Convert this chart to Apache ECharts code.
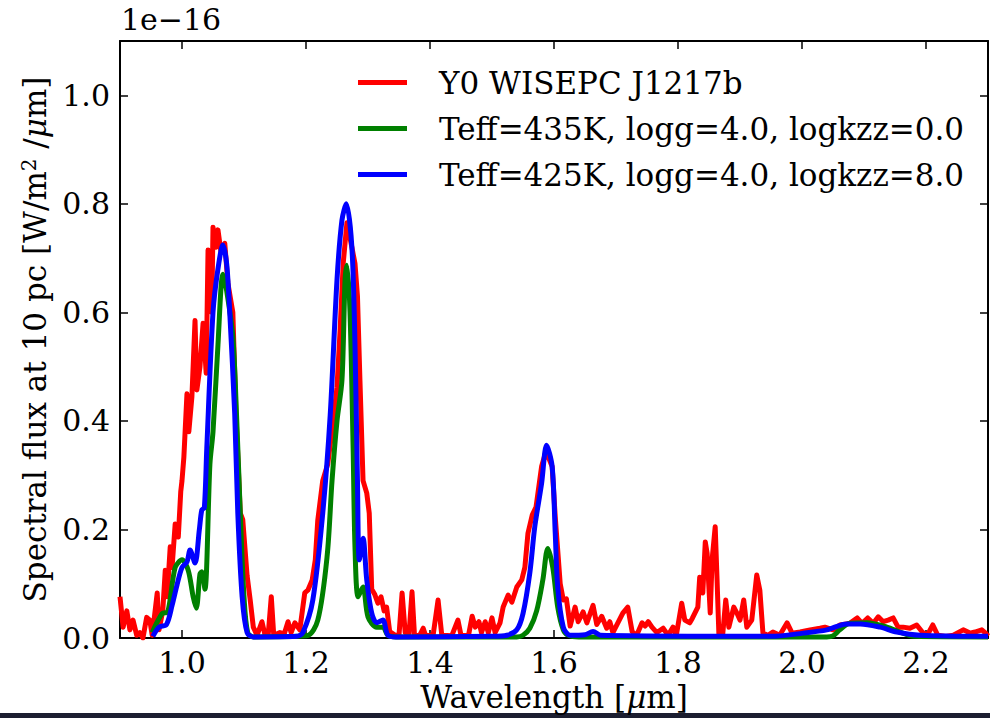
<!DOCTYPE html>
<html>
<head>
<meta charset="utf-8">
<script src="https://cdn.jsdelivr.net/npm/echarts@6/dist/echarts.min.js"></script>
<style>
html,body{margin:0;padding:0;background:#fff;}
#chart{width:990px;height:718px;}
</style>
</head>
<body>
<div id="chart"></div>
<script>
// ---- data (flux in units of 1e-16 W/m^2/um, wavelength in um) ----
const obsWave = [0.900,0.905,0.911,0.916,0.921,0.927,0.932,0.937,0.943,0.948,0.952,0.960,0.963,0.969,0.973,0.976,0.981,0.984,0.989,0.994,0.998,1.000,1.003,1.008,1.011,1.016,1.021,1.024,1.029,1.034,1.039,1.042,1.048,1.050,1.055,1.058,1.063,1.069,1.074,1.082,1.087,1.094,1.098,1.105,1.110,1.115,1.121,1.129,1.134,1.139,1.144,1.148,1.158,1.165,1.171,1.176,1.182,1.190,1.198,1.203,1.210,1.215,1.219,1.227,1.235,1.244,1.250,1.255,1.260,1.266,1.274,1.279,1.283,1.287,1.292,1.298,1.302,1.306,1.311,1.316,1.321,1.326,1.330,1.335,1.344,1.350,1.355,1.360,1.366,1.371,1.375,1.383,1.389,1.393,1.405,1.413,1.419,1.435,1.445,1.450,1.462,1.468,1.473,1.479,1.483,1.489,1.494,1.500,1.505,1.513,1.518,1.526,1.532,1.540,1.548,1.553,1.558,1.565,1.571,1.580,1.586,1.592,1.597,1.602,1.610,1.615,1.620,1.626,1.634,1.639,1.647,1.653,1.663,1.669,1.677,1.685,1.690,1.695,1.703,1.711,1.719,1.726,1.733,1.742,1.747,1.752,1.758,1.766,1.776,1.784,1.792,1.797,1.806,1.811,1.819,1.823,1.832,1.835,1.840,1.844,1.847,1.852,1.855,1.860,1.863,1.866,1.872,1.877,1.882,1.890,1.895,1.900,1.906,1.911,1.919,1.927,1.932,1.937,1.945,1.953,1.964,1.976,1.984,1.997,2.013,2.029,2.037,2.050,2.061,2.077,2.089,2.097,2.106,2.115,2.123,2.131,2.139,2.147,2.155,2.163,2.174,2.185,2.194,2.202,2.211,2.219,2.232,2.244,2.260,2.271,2.279,2.290,2.298,2.300];
const obsFlux = [0.076,0.020,0.050,0.015,0.033,0.005,0.010,0.000,0.038,0.033,0.005,0.083,0.015,0.050,0.125,0.076,0.168,0.130,0.210,0.186,0.270,0.290,0.333,0.450,0.380,0.445,0.585,0.457,0.500,0.580,0.488,0.715,0.600,0.757,0.720,0.752,0.710,0.727,0.654,0.600,0.414,0.230,0.218,0.115,0.070,0.020,0.005,0.030,0.005,0.005,0.076,0.005,0.010,0.008,0.030,0.010,0.028,0.015,0.083,0.088,0.107,0.144,0.217,0.290,0.320,0.400,0.462,0.567,0.690,0.765,0.720,0.690,0.630,0.475,0.290,0.267,0.230,0.090,0.080,0.064,0.076,0.050,0.057,0.012,0.005,0.005,0.083,0.010,0.004,0.085,0.005,0.004,0.018,0.004,0.005,0.070,0.005,0.004,0.033,0.005,0.004,0.040,0.020,0.030,0.010,0.030,0.010,0.037,0.010,0.028,0.057,0.079,0.066,0.094,0.107,0.130,0.193,0.227,0.241,0.316,0.340,0.330,0.316,0.223,0.100,0.070,0.072,0.022,0.057,0.030,0.048,0.028,0.060,0.025,0.040,0.018,0.030,0.010,0.028,0.046,0.057,0.012,0.004,0.028,0.022,0.030,0.020,0.010,0.018,0.005,0.020,0.003,0.064,0.033,0.028,0.036,0.057,0.112,0.083,0.177,0.156,0.046,0.144,0.205,0.107,0.005,0.005,0.070,0.020,0.057,0.046,0.033,0.070,0.020,0.033,0.116,0.088,0.009,0.005,0.011,0.005,0.028,0.009,0.011,0.015,0.018,0.020,0.015,0.024,0.027,0.037,0.027,0.037,0.027,0.039,0.030,0.033,0.037,0.020,0.020,0.018,0.024,0.011,0.005,0.024,0.005,0.003,0.005,0.015,0.009,0.011,0.015,0.007,0.010];

const kzz0Wave = [0.952,0.968,0.977,0.989,1.000,1.010,1.018,1.023,1.029,1.032,1.037,1.045,1.050,1.058,1.066,1.072,1.082,1.088,1.094,1.100,1.106,1.115,1.201,1.219,1.234,1.242,1.250,1.258,1.263,1.266,1.271,1.276,1.279,1.284,1.292,1.300,1.314,1.324,1.332,1.345,1.540,1.550,1.561,1.572,1.582,1.590,1.598,1.606,1.615,1.623,1.640,2.040,2.050,2.061,2.077,2.105,2.137,2.158,2.180,2.300];
const kzz0Flux = [0.010,0.045,0.048,0.130,0.144,0.125,0.076,0.055,0.118,0.122,0.090,0.320,0.380,0.540,0.670,0.640,0.555,0.410,0.230,0.076,0.010,0.002,0.004,0.033,0.150,0.290,0.400,0.475,0.660,0.687,0.600,0.350,0.168,0.076,0.094,0.039,0.020,0.020,0.005,0.002,0.002,0.005,0.018,0.050,0.107,0.165,0.130,0.057,0.015,0.005,0.002,0.002,0.004,0.015,0.027,0.028,0.020,0.011,0.003,0.002];

const kzz8Wave = [0.953,0.963,0.975,0.984,0.992,1.000,1.008,1.013,1.021,1.028,1.032,1.036,1.040,1.050,1.058,1.066,1.072,1.077,1.085,1.090,1.097,1.105,1.115,1.185,1.195,1.211,1.227,1.239,1.250,1.258,1.265,1.274,1.279,1.283,1.286,1.292,1.298,1.306,1.314,1.324,1.332,1.345,1.500,1.524,1.540,1.550,1.561,1.569,1.580,1.588,1.597,1.602,1.606,1.615,1.626,1.650,1.663,1.675,1.950,2.002,2.040,2.072,2.094,2.126,2.153,2.190,2.300];
const kzz8Flux = [0.003,0.020,0.025,0.060,0.098,0.130,0.140,0.162,0.138,0.200,0.236,0.240,0.350,0.600,0.680,0.724,0.690,0.600,0.414,0.230,0.076,0.010,0.002,0.003,0.010,0.070,0.230,0.410,0.660,0.770,0.800,0.720,0.540,0.290,0.144,0.184,0.107,0.046,0.028,0.033,0.005,0.002,0.003,0.005,0.015,0.045,0.120,0.205,0.285,0.355,0.316,0.193,0.094,0.020,0.005,0.006,0.012,0.005,0.003,0.009,0.015,0.026,0.026,0.020,0.011,0.005,0.003];

const xTicks = [1.0,1.2,1.4,1.6,1.8,2.0,2.2];
const yTicks = [0.0,0.2,0.4,0.6,0.8,1.0];
const seriesNames = ['Y0 WISEPC J1217b','Teff=435K, logg=4.0, logkzz=0.0','Teff=425K, logg=4.0, logkzz=8.0'];

// ---- build ----
const zip = (a,b) => a.map((v,i)=>[v,b[i]]);
const FONT = 'DejaVu Serif';
const FS = 31;   // legend / axis titles
const TFS = 30;  // tick labels / offset text

const chart = echarts.init(document.getElementById('chart'), null, {renderer:'svg'});
const axisLineStyle = {color:'#000', width:2};
const tickStyle = {color:'#000', width:1.5};

chart.setOption({
  animation:false,
  backgroundColor:'#ffffff',
  grid:{left:120, top:41, width:868, height:597, show:false},
  legend:{
    orient:'vertical', left:353, top:61, itemWidth:49, itemHeight:5, itemGap:13,
    icon:'rect',
    textStyle:{fontFamily:FONT, fontSize:FS, color:'#000', lineHeight:33, padding:[0,0,0,27]},
    data:seriesNames
  },
  xAxis:[{
    type:'value', min:0.9, max:2.3, position:'bottom',
    name:'Wavelength [{i|μ}m]', nameLocation:'middle', nameGap:42,
    nameTextStyle:{fontFamily:FONT, fontSize:FS, color:'#000', rich:{i:{fontFamily:FONT, fontStyle:'italic', fontSize:FS, color:'#000'}}},
    axisLine:{show:true, onZero:false, lineStyle:axisLineStyle},
    axisTick:{show:true, inside:true, length:8, lineStyle:tickStyle, customValues:xTicks},
    axisLabel:{show:true, margin:9, fontFamily:FONT, fontSize:TFS, color:'#000', customValues:xTicks, formatter:v=>v.toFixed(1)},
    splitLine:{show:false}
  },{
    type:'value', min:0.9, max:2.3, position:'top',
    axisLine:{show:true, onZero:false, lineStyle:axisLineStyle},
    axisTick:{show:true, inside:true, length:8, lineStyle:tickStyle, customValues:xTicks},
    axisLabel:{show:false, customValues:xTicks},
    splitLine:{show:false}
  }],
  yAxis:[{
    type:'value', min:0, max:1.1, position:'left',
    name:'Spectral flux at 10 pc [W/m{s|2} /{i|μ}m]', nameLocation:'middle', nameGap:70, nameRotate:90,
    nameTextStyle:{fontFamily:FONT, fontSize:FS, color:'#000', rich:{
      s:{fontFamily:FONT, fontSize:20, color:'#000', verticalAlign:'top', lineHeight:22},
      i:{fontFamily:FONT, fontStyle:'italic', fontSize:FS, color:'#000'}}},
    axisLine:{show:true, onZero:false, lineStyle:axisLineStyle},
    axisTick:{show:true, inside:true, length:8, lineStyle:tickStyle, customValues:yTicks},
    axisLabel:{show:true, margin:10, fontFamily:FONT, fontSize:TFS, color:'#000', customValues:yTicks, formatter:v=>v.toFixed(1)},
    splitLine:{show:false}
  },{
    type:'value', min:0, max:1.1, position:'right',
    axisLine:{show:true, onZero:false, lineStyle:axisLineStyle},
    axisTick:{show:true, inside:true, length:8, lineStyle:tickStyle, customValues:yTicks},
    axisLabel:{show:false, customValues:yTicks},
    splitLine:{show:false}
  }],
  graphic:[
    {type:'text', left:121, top:4, style:{text:'1e\u221216', fontFamily:FONT, fontSize:TFS, fill:'#000'}},
    {type:'rect', left:0, top:713, shape:{width:990, height:5}, style:{fill:'#1c1e30'}, silent:true}
  ],
  series:[
    {name:seriesNames[0], type:'line', data:zip(obsWave,obsFlux), showSymbol:false, clip:true,
     lineStyle:{color:'#ff0000', width:5, join:'round'}, itemStyle:{color:'#ff0000'}, z:2},
    {name:seriesNames[1], type:'line', data:zip(kzz0Wave,kzz0Flux), showSymbol:false, clip:true, smooth:0.3,
     lineStyle:{color:'#008000', width:5, join:'round'}, itemStyle:{color:'#008000'}, z:3},
    {name:seriesNames[2], type:'line', data:zip(kzz8Wave,kzz8Flux), showSymbol:false, clip:true, smooth:0.3,
     lineStyle:{color:'#0000ff', width:5, join:'round'}, itemStyle:{color:'#0000ff'}, z:4}
  ]
});
</script>
</body>
</html>
